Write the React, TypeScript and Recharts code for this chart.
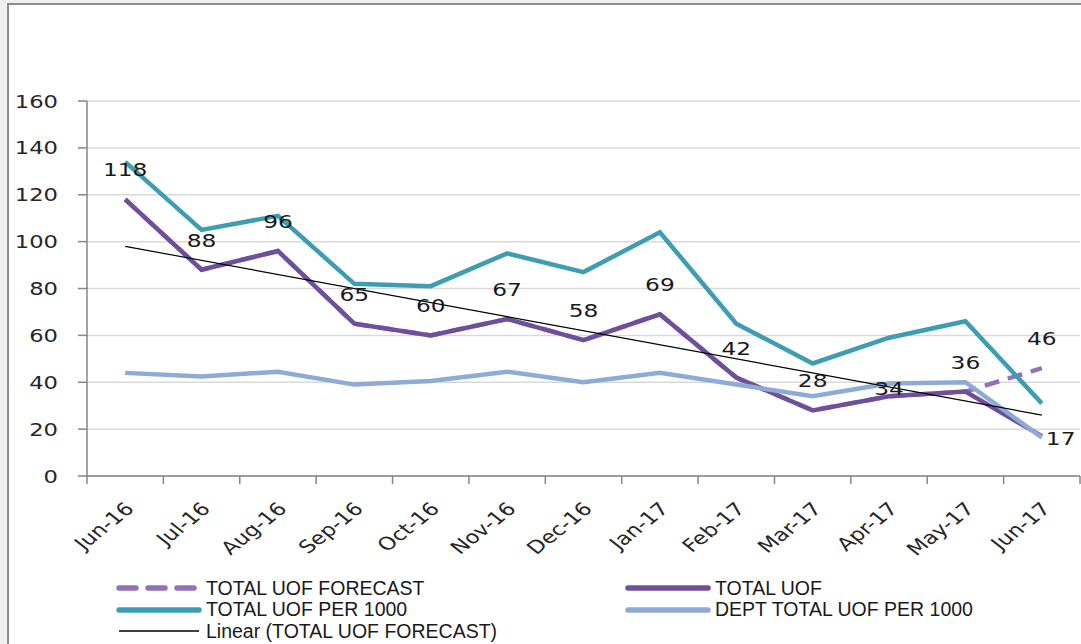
import React from 'react';
import { LineChart, Line, XAxis, YAxis, CartesianGrid, LabelList } from 'recharts';

const months = ['Jun-16', 'Jul-16', 'Aug-16', 'Sep-16', 'Oct-16', 'Nov-16', 'Dec-16', 'Jan-17', 'Feb-17', 'Mar-17', 'Apr-17', 'May-17', 'Jun-17'];
const forecast = [118, 88, 96, 65, 60, 67, 58, 69, 42, 28, 34, 36, 46];
const totalUof = [118, 88, 96, 65, 60, 67, 58, 69, 42, 28, 34, 36, 17];
const per1000 = [134, 105, 111, 82, 81, 95, 87, 104, 65, 48, 59, 66, 31];
const deptPer1000 = [44, 42.5, 44.5, 39, 40.5, 44.5, 40, 44, 39, 34, 39.5, 40, 16.5];
const trend: (number | null)[] = [98, null, null, null, null, null, null, null, null, null, null, null, 26];
const yTicks = [0, 20, 40, 60, 80, 100, 120, 140, 160];

const C_FORECAST = '#9272bd';
const C_TOTAL = '#6f4f9c';
const C_PER = '#3d9db2';
const C_DEPT = '#8eaad6';
const C_TREND = '#000000';

const data = months.map((m, i) => ({
  month: m,
  forecast: forecast[i],
  total: totalUof[i],
  per: per1000[i],
  dept: deptPer1000[i],
  trend: trend[i],
}));

const W = 1081;
const H = 644;
const LEFT = 87;
const RIGHT = 1;
const STEP = (W - LEFT - RIGHT) / months.length;
const FONT = '"DejaVu Sans", Verdana, sans-serif';
const SX = 1.26;

const XTick = (props: any) => {
  const { x, y, payload, index } = props;
  const last = index === months.length - 1;
  return (
    <g>
      <line x1={x - STEP / 2} x2={x - STEP / 2} y1={y} y2={y + 8} stroke="#868686" strokeWidth={1.5} />
      {last && <line x1={x + STEP / 2} x2={x + STEP / 2} y1={y} y2={y + 8} stroke="#868686" strokeWidth={1.5} />}
      <text
        x={0}
        y={0}
        textAnchor="end"
        transform={`translate(${x + 10} ${y + 34}) scale(${SX} 1) rotate(-45)`}
        fontFamily={FONT}
        fontSize={18}
        fill="#262626"
      >
        {payload.value}
      </text>
    </g>
  );
};

const YTick = (props: any) => {
  const { x, y, payload } = props;
  return (
    <text
      x={0}
      y={0}
      dy={6.5}
      textAnchor="end"
      transform={`translate(${x - 18} ${y}) scale(${SX} 1)`}
      fontFamily={FONT}
      fontSize={18}
      fill="#262626"
    >
      {payload.value}
    </text>
  );
};

const ForecastLabel = (props: any) => {
  const { x, y, value, index } = props;
  const up = index === 10 ? 8 : 30;
  return (
    <text
      x={0}
      y={0}
      dy={7}
      textAnchor="middle"
      transform={`translate(${x} ${y - up}) scale(${SX} 1)`}
      fontFamily={FONT}
      fontSize={18.5}
      fill="#1a1a1a"
    >
      {value}
    </text>
  );
};

const TotalLabel = (props: any) => {
  const { x, y, value, index } = props;
  if (index !== months.length - 1) return null;
  return (
    <text
      x={0}
      y={0}
      dy={7}
      textAnchor="start"
      transform={`translate(${x + 4} ${y + 2}) scale(${SX} 1)`}
      fontFamily={FONT}
      fontSize={18.5}
      fill="#1a1a1a"
    >
      {value}
    </text>
  );
};

const legendItems = [
  { label: 'TOTAL UOF FORECAST', color: C_FORECAST, dash: true, w: 5.5, col: 0, row: 0 },
  { label: 'TOTAL UOF', color: C_TOTAL, dash: false, w: 5.5, col: 1, row: 0 },
  { label: 'TOTAL UOF PER 1000', color: C_PER, dash: false, w: 5.5, col: 0, row: 1 },
  { label: 'DEPT TOTAL UOF PER 1000', color: C_DEPT, dash: false, w: 5.5, col: 1, row: 1 },
  { label: 'Linear (TOTAL UOF FORECAST)', color: C_TREND, dash: false, w: 1.3, col: 0, row: 2 },
];

export default function App() {
  return (
    <div style={{ position: 'absolute', left: 0, top: 0, width: W, height: H, background: '#efefef', overflow: 'hidden' }}>
      <div
        style={{
          position: 'absolute',
          left: 7,
          top: 3,
          width: W,
          height: H - 5,
          background: '#ffffff',
          borderLeft: '2px solid #8c8c8c',
          borderTop: '2px solid #8c8c8c',
          borderBottom: '1px solid #d0d0d0',
        }}
      />
      <div style={{ position: 'absolute', left: 0, top: 0 }}>
        <LineChart width={W} height={H} data={data} margin={{ top: 101, right: RIGHT, left: 7, bottom: 78 }}>
          <CartesianGrid vertical={false} stroke="#d9d9d9" strokeWidth={1.5} />
          <XAxis
            dataKey="month"
            interval={0}
            height={90}
            padding={{ left: STEP / 2, right: STEP / 2 }}
            tickLine={false}
            tickSize={0}
            tickMargin={0}
            axisLine={{ stroke: '#868686', strokeWidth: 1.5 }}
            tick={<XTick />}
          />
          <YAxis
            domain={[0, 160]}
            ticks={yTicks}
            width={80}
            tickSize={9}
            tickLine={{ stroke: '#868686', strokeWidth: 1.5 }}
            axisLine={{ stroke: '#868686', strokeWidth: 1.5 }}
            tick={<YTick />}
          />
          <Line dataKey="forecast" stroke={C_FORECAST} strokeWidth={4.5} strokeDasharray="15 9" dot={false} isAnimationActive={false}>
            <LabelList dataKey="forecast" content={<ForecastLabel />} />
          </Line>
          <Line dataKey="total" stroke={C_TOTAL} strokeWidth={4.5} dot={false} isAnimationActive={false}>
            <LabelList dataKey="total" content={<TotalLabel />} />
          </Line>
          <Line dataKey="per" stroke={C_PER} strokeWidth={4.5} dot={false} isAnimationActive={false} />
          <Line dataKey="dept" stroke={C_DEPT} strokeWidth={4.5} dot={false} isAnimationActive={false} />
          <Line dataKey="trend" stroke={C_TREND} strokeWidth={1.2} dot={false} connectNulls isAnimationActive={false} />
        </LineChart>
      </div>
      {legendItems.map((it) => (
        <div
          key={it.label}
          style={{
            position: 'absolute',
            left: it.col === 0 ? 116 : 625,
            top: 577 + it.row * 21.5,
            height: 22,
            display: 'flex',
            alignItems: 'center',
            fontFamily: '"Liberation Sans", Arial, sans-serif',
            fontSize: 19.5,
            color: '#1a1a1a',
            whiteSpace: 'nowrap',
          }}
        >
          <svg width={86} height={10} style={{ marginRight: 4 }}>
            <line
              x1={3}
              x2={83}
              y1={5}
              y2={5}
              stroke={it.color}
              strokeWidth={it.w}
              strokeDasharray={it.dash ? '17 12' : undefined}
              strokeLinecap={it.w > 2 ? 'round' : 'butt'}
            />
          </svg>
          <span>{it.label}</span>
        </div>
      ))}
    </div>
  );
}
